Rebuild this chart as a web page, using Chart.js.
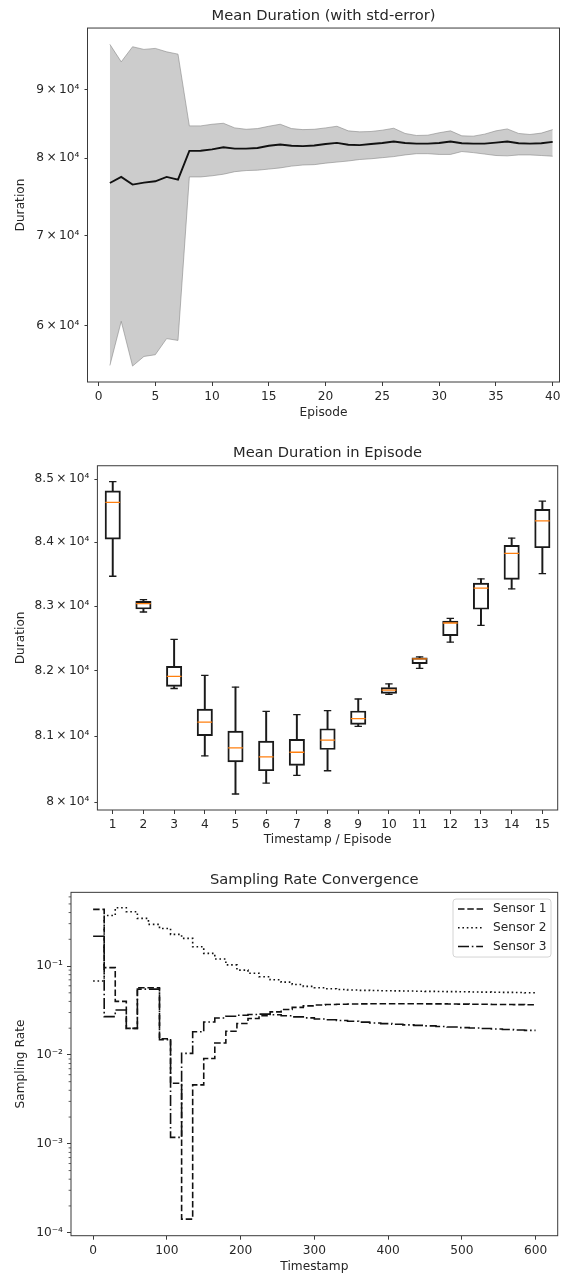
<!DOCTYPE html>
<html>
<head>
<meta charset="utf-8">
<script src="https://cdn.jsdelivr.net/npm/chart.js@4.4.0/dist/chart.umd.min.js"></script>
<style>
  html, body { margin: 0; padding: 0; background: #fff; }
  .panel { position: relative; width: 576px; height: 425px; }
</style>
</head>
<body>
<div class="panel"><canvas id="durationChart"></canvas></div>
<div class="panel"><canvas id="boxChart"></canvas></div>
<div class="panel"><canvas id="samplingChart"></canvas></div>
<script>
// ---------- chart 1: mean duration with std-error ----------
const episodes = [1, 2, 3, 4, 5, 6, 7, 8, 9, 10, 11, 12, 13, 14, 15, 16, 17, 18, 19, 20,
                  21, 22, 23, 24, 25, 26, 27, 28, 29, 30, 31, 32, 33, 34, 35, 36, 37, 38, 39, 40];
const meanDuration = [76650, 77450, 76440, 76700, 76870, 77450, 77100, 80990, 81000, 81200,
                      81500, 81300, 81300, 81400, 81700, 81880, 81700, 81650, 81750, 81950,
                      82110, 81850, 81800, 81950, 82100, 82300, 82100, 82000, 82000, 82100,
                      82300, 82050, 82000, 82000, 82150, 82300, 82050, 82000, 82050, 82250];
const upperBand = [97240, 94370, 96840, 96400, 96570, 96000, 95620, 84540, 84540, 84780,
                   84920, 84250, 84050, 84150, 84490, 84780, 84150, 84000, 84050, 84250,
                   84490, 83820, 83680, 83730, 83920, 84200, 83450, 83160, 83200, 83550,
                   83820, 83110, 83060, 83350, 83820, 84100, 83450, 83300, 83500, 84000];
const lowerBand = [56040, 60450, 55980, 56910, 57080, 58680, 58500, 77450, 77450, 77600,
                   77810, 78150, 78300, 78350, 78500, 78660, 78900, 79050, 79100, 79300,
                   79450, 79600, 79800, 79900, 80050, 80200, 80430, 80600, 80600, 80500,
                   80500, 80900, 80750, 80550, 80350, 80300, 80430, 80430, 80350, 80250];
const episodeTicks = [0, 5, 10, 15, 20, 25, 30, 35, 40];
const durationTicks = [60000, 70000, 80000, 90000];
const durationTickLabels = ['6\u2009×\u200910⁴', '7\u2009×\u200910⁴', '8\u2009×\u200910⁴', '9\u2009×\u200910⁴'];

// ---------- chart 2: box plot per timestamp ----------
const timestampLabels = ['1', '2', '3', '4', '5', '6', '7', '8', '9', '10', '11', '12', '13', '14', '15'];
const whiskerLow  = [83464, 82907, 81726, 80700, 80125, 80290, 80405, 80475, 81148, 81635, 82036, 82440, 82700, 83266, 83506];
const quartile1   = [84048, 82953, 81757, 81006, 80610, 80475, 80555, 80796, 81178, 81650, 82109, 82540, 82949, 83416, 83911];
const medianDur   = [84628, 83037, 81913, 81213, 80820, 80685, 80755, 80940, 81265, 81700, 82182, 82736, 83280, 83823, 84334];
const quartile3   = [84813, 83073, 82067, 81411, 81076, 80925, 80950, 81112, 81382, 81741, 82198, 82767, 83357, 83948, 84519];
const whiskerHigh = [84957, 83100, 82482, 81928, 81746, 81376, 81326, 81387, 81565, 81796, 82213, 82809, 83424, 84064, 84647];
const boxTicks = [80000, 81000, 82000, 83000, 84000, 85000];
const boxTickLabels = ['8\u2009×\u200910⁴', '8.1\u2009×\u200910⁴', '8.2\u2009×\u200910⁴', '8.3\u2009×\u200910⁴', '8.4\u2009×\u200910⁴', '8.5\u2009×\u200910⁴'];

// ---------- chart 3: sampling rate (one value per 15-step episode) ----------
const stepStarts = [0, 15, 30, 45, 60, 75, 90, 105, 120, 135, 150, 165, 180, 195, 210, 225, 240, 255, 270, 285,
                    300, 315, 330, 345, 360, 375, 390, 405, 420, 435, 450, 465, 480, 495, 510, 525, 540, 555, 570, 585, 600];
const sensor1 = [0.434, 0.096, 0.040, 0.0199, 0.057, 0.057, 0.0152, 0.0048, 0.000142, 0.0046,
                 0.0091, 0.0136, 0.0185, 0.0226, 0.0257, 0.0276, 0.0305, 0.0325, 0.0343, 0.0356,
                 0.0364, 0.0369, 0.0372, 0.0374, 0.0375, 0.0376, 0.0376, 0.0376, 0.0376, 0.0376,
                 0.0375, 0.0375, 0.0374, 0.0373, 0.0372, 0.0371, 0.0370, 0.0369, 0.0368, 0.0367];
const sensor2 = [0.068, 0.37, 0.453, 0.408, 0.344, 0.294, 0.265, 0.227, 0.205, 0.165,
                 0.139, 0.120, 0.103, 0.090, 0.083, 0.0758, 0.070, 0.066, 0.062, 0.059,
                 0.057, 0.0555, 0.0545, 0.0538, 0.0533, 0.053, 0.0527, 0.0525, 0.0523, 0.0521,
                 0.0519, 0.0517, 0.0515, 0.0513, 0.0511, 0.0509, 0.0507, 0.0505, 0.0503, 0.0500];
const sensor3 = [0.216, 0.027, 0.032, 0.0199, 0.055, 0.055, 0.0148, 0.00118, 0.0104, 0.0182,
                 0.0235, 0.0260, 0.0272, 0.0280, 0.0285, 0.0288, 0.0283, 0.0276, 0.0268, 0.0261,
                 0.0254, 0.0249, 0.0244, 0.0239, 0.0234, 0.0229, 0.0225, 0.0221, 0.0218, 0.0215,
                 0.0212, 0.0209, 0.0206, 0.0203, 0.0201, 0.0198, 0.0196, 0.0193, 0.0191, 0.0189];
const timestampTicks = [0, 100, 200, 300, 400, 500, 600];
const rateTicks = [0.0001, 0.001, 0.01, 0.1];
const rateTickLabels = ['10⁻⁴', '10⁻³', '10⁻²', '10⁻¹'];

// ---------- shared styling ----------
const FONT = "'DejaVu Sans', sans-serif";
const TEXT = '#262626';
const SPINE = '#3a3a3a';
Chart.defaults.font.family = FONT;
Chart.defaults.color = TEXT;

const framePlugin = {
    id: 'frame',
    afterDraw(chart) {
        const { ctx, chartArea: a } = chart;
        ctx.save();
        ctx.strokeStyle = SPINE;
        ctx.lineWidth = 1;
        ctx.strokeRect(a.left, a.top, a.right - a.left, a.bottom - a.top);
        ctx.restore();
    }
};

function axis(title, titlePad, size, extra) {
    return Object.assign({
        border: { display: false },
        grid: { drawOnChartArea: false, drawTicks: true, tickLength: 4, tickColor: SPINE, tickWidth: 1 },
        ticks: { color: TEXT, font: { size: 12.2 }, padding: 4, maxRotation: 0, autoSkip: false },
        title: { display: true, text: title, color: TEXT, font: { size: 12.2 }, padding: titlePad },
        afterFit: (scale) => {
            if (scale.isHorizontal()) scale.height = size; else scale.width = size;
        }
    }, extra);
}

function fixedTicks(values) {
    return (scale) => { scale.ticks = values.map(v => ({ value: v })); };
}

// title spans the plot area only, like the axes title
function titleOpts(text, top, bottom) {
    return {
        display: true, fullSize: false, text: text, color: TEXT,
        font: { size: 14.7, weight: 'normal' }, padding: { top: top, bottom: bottom }
    };
}

// ---------- chart 1 ----------
new Chart(document.getElementById('durationChart'), {
    type: 'line',
    data: {
        datasets: [
            {
                label: 'mean',
                data: episodes.map((e, i) => ({ x: e, y: meanDuration[i] })),
                borderColor: '#111111',
                borderWidth: 1.9,
                pointRadius: 0,
                fill: false,
                order: 0
            },
            {
                label: 'upper',
                data: episodes.map((e, i) => ({ x: e, y: upperBand[i] })),
                borderColor: 'rgba(128,128,128,0.55)',
                borderWidth: 1,
                backgroundColor: 'rgba(128,128,128,0.4)',
                pointRadius: 0,
                fill: '+1',
                order: 1
            },
            {
                label: 'lower',
                data: episodes.map((e, i) => ({ x: e, y: lowerBand[i] })),
                borderColor: 'rgba(128,128,128,0.55)',
                borderWidth: 1,
                pointRadius: 0,
                fill: false,
                order: 2
            }
        ]
    },
    options: {
        responsive: true,
        maintainAspectRatio: false,
        animation: false,
        events: [],
        layout: { padding: { top: 0, right: 16.5, bottom: 0, left: 0 } },
        plugins: {
            title: titleOpts('Mean Duration (with std-error)', 7.2, 3.2),
            legend: { display: false },
            tooltip: { enabled: false }
        },
        scales: {
            x: axis('Episode', { top: 0, bottom: 4.7 }, 43, {
                type: 'linear', min: -0.97, max: 40.6,
                afterBuildTicks: fixedTicks(episodeTicks)
            }),
            y: axis('Duration', { top: 13.2, bottom: 0 }, 87.5, {
                type: 'logarithmic', min: 54470, max: 100000,
                afterBuildTicks: fixedTicks(durationTicks),
                ticks: {
                    color: TEXT, font: { size: 12.2 }, padding: 5,
                    callback: (v) => durationTickLabels[durationTicks.indexOf(v)]
                },
                grid: { drawOnChartArea: false, tickLength: 3, tickColor: SPINE, tickWidth: 1 }
            })
        }
    },
    plugins: [framePlugin]
});

// ---------- chart 2 ----------
const BOX = '#1a1a1a';
new Chart(document.getElementById('boxChart'), {
    type: 'bar',
    data: {
        labels: timestampLabels,
        datasets: [
            {
                type: 'line', data: medianDur, showLine: false,
                pointStyle: 'line', pointRadius: 7.4, pointBorderWidth: 1.3,
                borderColor: '#ff7f0e', order: 0
            },
            {
                type: 'line', data: whiskerLow, showLine: false,
                pointStyle: 'line', pointRadius: 3.7, pointBorderWidth: 1.3,
                borderColor: BOX, order: 1
            },
            {
                type: 'line', data: whiskerHigh, showLine: false,
                pointStyle: 'line', pointRadius: 3.7, pointBorderWidth: 1.3,
                borderColor: BOX, order: 1
            },
            {
                data: quartile1.map((v, i) => [v, quartile3[i]]),
                backgroundColor: 'rgba(0,0,0,0)', borderColor: BOX, borderWidth: 1.3,
                borderSkipped: false, barThickness: 15.4, grouped: false, order: 2
            },
            {
                data: whiskerLow.map((v, i) => [v, quartile1[i]]),
                backgroundColor: BOX, borderWidth: 0, barThickness: 1.3, grouped: false, order: 3
            },
            {
                data: quartile3.map((v, i) => [v, whiskerHigh[i]]),
                backgroundColor: BOX, borderWidth: 0, barThickness: 1.3, grouped: false, order: 3
            }
        ]
    },
    options: {
        responsive: true,
        maintainAspectRatio: false,
        animation: false,
        events: [],
        layout: { padding: { top: 0, right: 18.3, bottom: 0, left: 0 } },
        plugins: {
            title: titleOpts('Mean Duration in Episode', 19.2, 3.9),
            legend: { display: false },
            tooltip: { enabled: false }
        },
        scales: {
            x: axis('Timestamp / Episode', { top: 0, bottom: 2.7 }, 40, {
                type: 'category', offset: true,
                grid: { drawOnChartArea: false, offset: false, tickLength: 4, tickColor: SPINE, tickWidth: 1 }
            }),
            y: axis('Duration', { top: 13.2, bottom: 0 }, 97.4, {
                type: 'logarithmic', min: 79885, max: 85212,
                afterBuildTicks: fixedTicks(boxTicks),
                ticks: {
                    color: TEXT, font: { size: 12.2 }, padding: 5,
                    callback: (v) => boxTickLabels[boxTicks.indexOf(v)]
                },
                grid: { drawOnChartArea: false, tickLength: 3, tickColor: SPINE, tickWidth: 1 }
            })
        }
    },
    plugins: [framePlugin]
});

// ---------- chart 3 ----------
const minorTickPlugin = {
    id: 'minorTicks',
    afterDraw(chart) {
        const { ctx, chartArea: a } = chart;
        const y = chart.scales.y;
        ctx.save();
        ctx.strokeStyle = SPINE;
        ctx.lineWidth = 0.8;
        for (let e = -5; e <= 0; e++) {
            for (let m = 2; m <= 9; m++) {
                const v = m * Math.pow(10, e);
                if (v < y.min || v > y.max) continue;
                const py = y.getPixelForValue(v);
                ctx.beginPath();
                ctx.moveTo(a.left, py);
                ctx.lineTo(a.left - 2.4, py);
                ctx.stroke();
            }
        }
        ctx.restore();
    }
};

const cornerLegend = {
    id: 'cornerLegend',
    afterDraw(chart) {
        const { ctx, chartArea: a } = chart;
        const w = 98, h = 58, rowH = 18.7;
        const x0 = a.right - 6.7 - w, y0 = a.top + 6.7;
        ctx.save();
        ctx.beginPath();
        ctx.roundRect(x0, y0, w, h, 3);
        ctx.fillStyle = 'rgba(255,255,255,0.8)';
        ctx.fill();
        ctx.strokeStyle = '#d4d4d4';
        ctx.lineWidth = 1;
        ctx.stroke();
        chart.data.datasets.forEach((ds, i) => {
            const ly = y0 + 10 + i * rowH;
            ctx.beginPath();
            ctx.setLineDash(ds.borderDash);
            ctx.strokeStyle = ds.borderColor;
            ctx.lineWidth = ds.borderWidth;
            ctx.moveTo(x0 + 5, ly);
            ctx.lineTo(x0 + 30, ly);
            ctx.stroke();
            ctx.setLineDash([]);
            ctx.fillStyle = TEXT;
            ctx.font = '12.2px ' + FONT;
            ctx.textBaseline = 'middle';
            ctx.fillText(ds.label, x0 + 40, ly);
        });
        ctx.restore();
    }
};

function stepSeries(values) {
    const closed = values.concat([values[values.length - 1]]);
    return stepStarts.map((t, i) => ({ x: t, y: closed[i] }));
}

const sensorStyle = { borderColor: '#111111', borderWidth: 1.6, pointRadius: 0, fill: false, stepped: 'before' };

new Chart(document.getElementById('samplingChart'), {
    type: 'line',
    data: {
        datasets: [
            Object.assign({ label: 'Sensor 1', data: stepSeries(sensor1), borderDash: [6.5, 2.8] }, sensorStyle),
            Object.assign({ label: 'Sensor 2', data: stepSeries(sensor2), borderDash: [1.6, 2.8] }, sensorStyle),
            Object.assign({ label: 'Sensor 3', data: stepSeries(sensor3), borderDash: [11, 2.8, 1.6, 2.8] }, sensorStyle)
        ]
    },
    options: {
        responsive: true,
        maintainAspectRatio: false,
        animation: false,
        events: [],
        layout: { padding: { top: 0, right: 18.3, bottom: 0, left: 0 } },
        plugins: {
            title: titleOpts('Sampling Rate Convergence', 21.2, 3.5),
            legend: { display: false },
            tooltip: { enabled: false }
        },
        scales: {
            x: axis('Timestamp', { top: 0, bottom: 1.0 }, 39.3, {
                type: 'linear', min: -30, max: 630,
                afterBuildTicks: fixedTicks(timestampTicks)
            }),
            y: axis('Sampling Rate', { top: 13.2, bottom: 0 }, 71, {
                type: 'logarithmic', min: 0.0000925, max: 0.675,
                afterBuildTicks: fixedTicks(rateTicks),
                ticks: {
                    color: TEXT, font: { size: 12.2 }, padding: 4,
                    callback: (v) => rateTickLabels[rateTicks.indexOf(v)]
                }
            })
        }
    },
    plugins: [framePlugin, minorTickPlugin, cornerLegend]
});
</script>
</body>
</html>
